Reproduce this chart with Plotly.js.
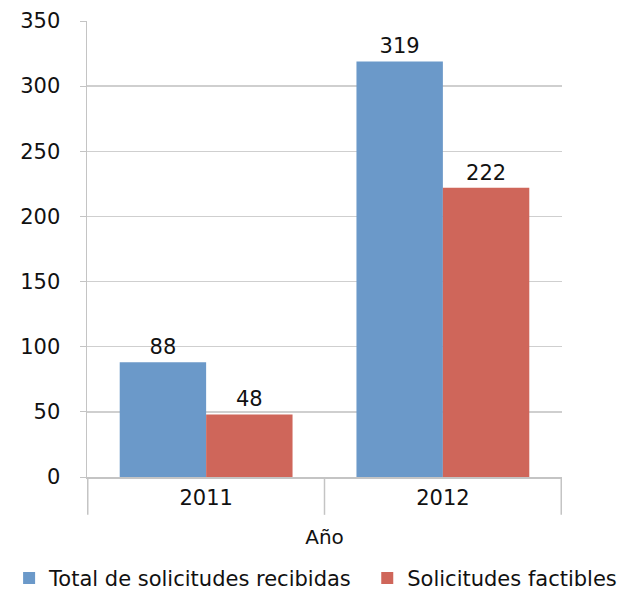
<!DOCTYPE html>
<html>
<head>
<meta charset="utf-8">
<script src="https://cdn.plot.ly/plotly-3.0.1.min.js"></script>
<style>html,body{margin:0;padding:0;background:#fff;}</style>
</head>
<body>
<div id="chart" style="width:618px;height:591px;"></div>
<script>
const years = ["2011", "2012"];
const totalRecibidas = [88, 319];
const factibles = [48, 222];
const seriesNames = ["Total de solicitudes recibidas", "Solicitudes factibles"];
const yTicks = [0, 50, 100, 150, 200, 250, 300, 350];

const font = "DejaVu Sans, sans-serif";

const traces = [
  {type: "bar", x: years, y: totalRecibidas, name: seriesNames[0], legend: "legend",
   marker: {color: "#6b99c9"}, text: totalRecibidas.map(String),
   textposition: "outside", cliponaxis: false,
   textfont: {family: font, size: 21, color: "#111111"}},
  {type: "bar", x: years, y: factibles, name: seriesNames[1], legend: "legend2",
   marker: {color: "#cf665a"}, text: factibles.map(String),
   textposition: "outside", cliponaxis: false,
   textfont: {family: font, size: 21, color: "#111111"}}
];

const shapes = [-0.5, 0.5, 1.5].map(v => ({
  type: "line", xref: "x", yref: "paper", x0: v, x1: v, y0: 0, y1: -0.083,
  line: {color: "#c4c4c4", width: 1.5}
}));

const legendFont = {family: font, size: 21, color: "#111111"};

const layout = {
  width: 618, height: 591,
  margin: {l: 87, r: 56, t: 21, b: 114, autoexpand: false},
  paper_bgcolor: "#ffffff", plot_bgcolor: "#ffffff",
  font: {family: font, size: 21, color: "#111111"},
  barmode: "group", bargap: 0.27, bargroupgap: 0,
  showlegend: true,
  legend: {orientation: "h", x: -0.164, xanchor: "left", y: -0.222, yanchor: "middle",
           font: legendFont, itemwidth: 30},
  legend2: {orientation: "h", x: 0.59, xanchor: "left", y: -0.222, yanchor: "middle",
           font: legendFont, itemwidth: 30},
  xaxis: {type: "category", showgrid: false, showline: true, linecolor: "#c4c4c4", linewidth: 1.5,
          ticks: "", ticklabelstandoff: 1, automargin: false,
          tickfont: {family: font, size: 21, color: "#111111"},
          title: {text: "Año", font: {family: font, size: 20, color: "#111111"}, standoff: 21}},
  yaxis: {range: [0, 350], tickvals: yTicks, showgrid: true, gridcolor: "#cfcfcf", gridwidth: 1.5,
          showline: true, linecolor: "#c4c4c4", linewidth: 1.5, ticks: "outside", ticklen: 6,
          tickcolor: "#c4c4c4", ticklabelstandoff: 15, zeroline: false, automargin: false,
          tickfont: {family: font, size: 21, color: "#111111"}},
  shapes: shapes
};

Plotly.newPlot("chart", traces, layout, {displayModeBar: false, staticPlot: true});
</script>
</body>
</html>
